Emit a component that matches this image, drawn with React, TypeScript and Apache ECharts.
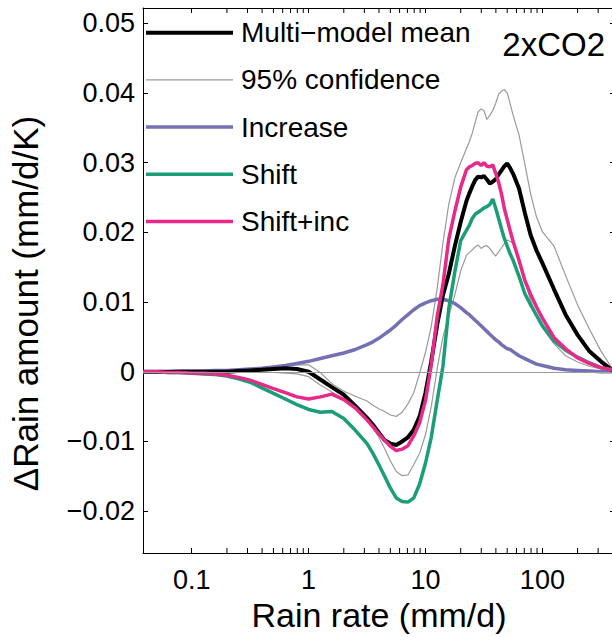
import React, { useEffect, useRef } from "react";
import * as echarts from "echarts";

// Rain-rate bins (mm/d), log spaced, denser around the peak
const RAIN_RATE = [
  0.0383, 0.0501, 0.0631, 0.0794, 0.1, 0.126, 0.158, 0.2, 0.251, 0.316,
  0.398, 0.501, 0.631, 0.794, 1, 1.26, 1.58, 2.0, 2.51, 3.16,
  3.55, 3.98, 4.47, 5.01, 5.62, 6.31, 7.08, 7.94, 8.91, 10,
  11.2, 12.6, 14.1, 15.8, 17.8, 20.0, 22.4, 23.7, 25.1, 26.6,
  28.2, 29.9, 31.6, 33.5, 35.5, 37.6, 39.8, 42.2, 44.7, 47.3,
  50.1, 53.1, 56.2, 63.1, 70.8, 79.4, 89.1, 100, 126, 158,
  200, 251, 316, 398,
];

const MEAN = [
  0, 0, 0, 0, 0, 0, 0, 0, 0.0001, 0.0002,
  0.0003, 0.0004, 0.0005, 0.0004, 0.0, -0.0011, -0.0022, -0.0033, -0.0049, -0.0066,
  -0.0076, -0.0087, -0.0098, -0.0103, -0.0105, -0.01, -0.0094, -0.0083, -0.0064, -0.003,
  0.0015, 0.0068, 0.011, 0.014, 0.018, 0.0215, 0.0245, 0.0256, 0.0266, 0.0275,
  0.028, 0.0279, 0.0281, 0.0276, 0.027, 0.0273, 0.0276, 0.0283, 0.0289, 0.0295,
  0.0299, 0.0292, 0.0284, 0.0263, 0.0228, 0.0196, 0.0174, 0.0156, 0.0118, 0.0082,
  0.0053, 0.003, 0.0015, 0.0002,
];

const CONF_UPPER = [
  0, 0, 0, 0, 0, 0, 0, 0.0001, 0.0002, 0.0003,
  0.0005, 0.0008, 0.0009, 0.001, 0.001, -0.0001, -0.0017, -0.0028, -0.0035, -0.0042,
  -0.0048, -0.0053, -0.0057, -0.0062, -0.0064, -0.0058, -0.0046, -0.003, -0.0002, 0.0028,
  0.0065, 0.012, 0.0185, 0.024, 0.0278, 0.03, 0.032, 0.033, 0.0342, 0.0358,
  0.0373, 0.0377, 0.0375, 0.0362, 0.0368, 0.0375, 0.0385, 0.0398, 0.0403, 0.0405,
  0.04, 0.0384, 0.0368, 0.034, 0.0298, 0.0255, 0.0222, 0.0201, 0.018, 0.0138,
  0.0096, 0.0062, 0.003, 0.0004,
];

const CONF_LOWER = [
  0, 0, 0, 0, 0, 0, 0, 0, 0, 0,
  -0.0001, -0.0001, -0.0002, -0.0003, -0.0007, -0.0019, -0.0029, -0.004, -0.0052, -0.0069,
  -0.008, -0.0094, -0.011, -0.0128, -0.0143, -0.0149, -0.0148, -0.0133, -0.0117, -0.009,
  -0.005, 0.0005, 0.005, 0.008, 0.011, 0.0145, 0.0167, 0.0171, 0.0175, 0.0179,
  0.0182, 0.0177, 0.018, 0.0181, 0.0177, 0.0171, 0.0166, 0.0172, 0.0178, 0.0184,
  0.0189, 0.0187, 0.0185, 0.016, 0.013, 0.0102, 0.008, 0.0063, 0.004, 0.0023,
  0.0014, 0.0008, 0.0004, 0.0001,
];

const INCREASE = [
  0, 0, 0, 0.0001, 0.0001, 0.0001, 0.0002, 0.0002, 0.0003, 0.0004,
  0.0005, 0.0007, 0.0009, 0.0012, 0.0015, 0.0019, 0.0023, 0.0027, 0.0032, 0.0039,
  0.0043, 0.0048, 0.0054, 0.006, 0.0067, 0.0075, 0.0082, 0.0089, 0.0095, 0.0099,
  0.0102, 0.0104, 0.0104, 0.0102, 0.0098, 0.0092, 0.0085, 0.0082, 0.0078, 0.0074,
  0.007, 0.0066, 0.0062, 0.0058, 0.0054, 0.005, 0.0046, 0.0043, 0.0039, 0.0036,
  0.0033, 0.0032, 0.0029, 0.0023, 0.0019, 0.0015, 0.0011, 0.0009, 0.0005, 0.0003,
  0.0002, 0.0001, 0, 0,
];

const SHIFT = [
  0, 0, -0.0001, -0.0001, -0.0002, -0.0003, -0.0004, -0.0006, -0.001, -0.0015,
  -0.0023, -0.0031, -0.0039, -0.0047, -0.0054, -0.0058, -0.0057, -0.0067, -0.0084, -0.0103,
  -0.0117, -0.0133, -0.015, -0.0167, -0.0181, -0.0186, -0.0187, -0.0181, -0.0161, -0.0131,
  -0.0094, -0.0041, 0.0008, 0.009, 0.0143, 0.0188, 0.0203, 0.021, 0.022, 0.0226,
  0.0229, 0.0232, 0.0235, 0.0237, 0.024, 0.0248, 0.0235, 0.022, 0.0205, 0.0191,
  0.018, 0.0169, 0.016, 0.0137, 0.0112, 0.0096, 0.0081, 0.0066, 0.0044, 0.0031,
  0.0021, 0.0013, 0.0006, 0.0002,
];

const SHIFT_INC = [
  0, 0, -0.0001, -0.0001, -0.0002, -0.0002, -0.0003, -0.0005, -0.0008, -0.0012,
  -0.0018, -0.0024, -0.003, -0.0036, -0.0039, -0.0036, -0.0032, -0.004, -0.0052, -0.0069,
  -0.0079, -0.0089, -0.0098, -0.0107, -0.0113, -0.0111, -0.0106, -0.0092, -0.0073, -0.0041,
  0.001, 0.008, 0.0125, 0.019, 0.023, 0.0265, 0.029, 0.0294, 0.0296, 0.0299,
  0.03, 0.0296, 0.03, 0.0295, 0.0294, 0.0297, 0.0285, 0.0272, 0.0255, 0.0234,
  0.0218, 0.0202, 0.0187, 0.016, 0.0131, 0.0111, 0.0093, 0.0077, 0.0049, 0.0033,
  0.002, 0.0012, 0.0006, 0.0003,
];

// Minor (2..9 per decade) tick positions on the rain-rate axis
const MINOR_TICKS = [
  0.2, 0.3, 0.4, 0.5, 0.6, 0.7, 0.8, 0.9,
  2, 3, 4, 5, 6, 7, 8, 9,
  20, 30, 40, 50, 60, 70, 80, 90,
  200, 300, 400,
];

const NAMES = {
  mean: "Multi\u2212model mean",
  conf: "95% confidence",
  inc: "Increase",
  shift: "Shift",
  shiftInc: "Shift+inc",
};

const X_MIN = 0.0383;
const X_MAX = 418;
const Y_MIN = -0.026;
const Y_MAX = 0.0522;

const FONT = "'Liberation Sans', Arial, Helvetica, sans-serif";
const GREY = "#9a9a9a";
const PURPLE = "#7570b3";
const GREEN = "#1b9e77";
const PINK = "#e7298a";

const pairs = (ys: number[]) => RAIN_RATE.map((x, i) => [x, ys[i]]);

const xLabel = (v: number) => {
  const l = Math.log10(v);
  if (Math.abs(l - Math.round(l)) > 1e-6) return "";
  return String(Number(v.toPrecision(6)));
};

const yLabel = (v: number) => {
  const r = Math.round(v * 100);
  if (Math.abs(v * 100 - r) > 1e-6) return "";
  if (r === 0) return "0";
  return (r < 0 ? "\u2212" : "") + (Math.abs(r) / 100).toFixed(2);
};

const axisLine = { show: true, onZero: false, lineStyle: { color: "#000", width: 1 } };
const axisTick = { show: true, inside: true, length: 5, lineStyle: { color: "#000", width: 1 } };

// legend entries show only the line, no marker
const hiddenMarker = { color: "rgba(0,0,0,0)", opacity: 0, borderWidth: 0 };

export default function App() {
  const ref = useRef<HTMLDivElement>(null);

  useEffect(() => {
    if (!ref.current) return;
    const chart = echarts.init(ref.current, null, { renderer: "svg" });

    const lineSeries = (name: string, ys: number[], color: string, width: number) => ({
      type: "line",
      name,
      data: pairs(ys),
      showSymbol: false,
      symbol: "none",
      silent: true,
      lineStyle: { color, width },
      itemStyle: { color },
    });

    chart.setOption({
      animation: false,
      textStyle: { fontFamily: FONT },
      grid: { left: 140, right: 1, top: 8, bottom: 80, containLabel: false },
      xAxis: [
        {
          type: "log",
          logBase: 10,
          min: X_MIN,
          max: X_MAX,
          position: "bottom",
          name: "Rain rate (mm/d)",
          nameLocation: "middle",
          nameGap: 45,
          nameMoveOverlap: false,
          nameTextStyle: { fontSize: 34, color: "#000", fontFamily: FONT },
          axisLine,
          axisTick,
          axisLabel: {
            fontSize: 27,
            color: "#000",
            margin: 13,
            fontFamily: FONT,
            showMinLabel: false,
            showMaxLabel: false,
            formatter: xLabel,
          },
          splitLine: { show: false },
        },
        {
          type: "log",
          logBase: 10,
          min: X_MIN,
          max: X_MAX,
          position: "top",
          axisLine,
          axisTick,
          axisLabel: { show: false },
          splitLine: { show: false },
        },
      ],
      yAxis: [
        {
          type: "value",
          min: Y_MIN,
          max: Y_MAX,
          splitNumber: 8,
          minInterval: 0.01,
          maxInterval: 0.01,
          position: "left",
          name: "\u0394Rain amount (mm/d/K)",
          nameLocation: "middle",
          nameGap: 100,
          nameMoveOverlap: false,
          nameTextStyle: {
            fontSize: 35,
            color: "#000",
            fontFamily: FONT,
            padding: [0, 46, 0, 0],
          },
          axisLine,
          axisTick,
          axisLabel: {
            fontSize: 27,
            color: "#000",
            margin: 8,
            fontFamily: FONT,
            showMinLabel: false,
            showMaxLabel: false,
            formatter: yLabel,
          },
          splitLine: { show: false },
        },
        {
          type: "value",
          min: Y_MIN,
          max: Y_MAX,
          splitNumber: 8,
          minInterval: 0.01,
          maxInterval: 0.01,
          position: "right",
          axisLine,
          axisTick,
          axisLabel: { show: false },
          splitLine: { show: false },
        },
      ],
      legend: {
        orient: "vertical",
        left: 144,
        top: 18.7,
        padding: 0,
        itemWidth: 87,
        itemHeight: 14,
        itemGap: 19.2,
        selectedMode: false,
        itemStyle: hiddenMarker,
        textStyle: {
          fontSize: 28,
          color: "#000",
          fontFamily: FONT,
          lineHeight: 28,
          padding: [0, 0, 0, 3],
        },
        data: [
          { name: NAMES.mean, itemStyle: hiddenMarker, lineStyle: { width: 4, color: "#000" } },
          { name: NAMES.conf, itemStyle: hiddenMarker, lineStyle: { width: 1.2, color: GREY } },
          { name: NAMES.inc, itemStyle: hiddenMarker, lineStyle: { width: 3.5, color: PURPLE } },
          { name: NAMES.shift, itemStyle: hiddenMarker, lineStyle: { width: 3.5, color: GREEN } },
          { name: NAMES.shiftInc, itemStyle: hiddenMarker, lineStyle: { width: 3.5, color: PINK } },
        ],
      },
      graphic: [
        {
          type: "text",
          x: 605,
          y: 44,
          silent: true,
          style: {
            text: "2xCO2",
            fontSize: 33,
            fontFamily: FONT,
            fill: "#000",
            align: "right",
            verticalAlign: "middle",
          },
        },
      ],
      series: [
        {
          ...lineSeries(NAMES.conf, CONF_UPPER, GREY, 1.2),
          markLine: {
            silent: true,
            symbol: ["none", "none"],
            label: { show: false },
            lineStyle: { color: GREY, width: 1.2, type: "solid" },
            data: [{ yAxis: 0 }],
          },
        },
        lineSeries(NAMES.conf, CONF_LOWER, GREY, 1.2),
        lineSeries(NAMES.inc, INCREASE, PURPLE, 3.5),
        lineSeries(NAMES.shift, SHIFT, GREEN, 3.5),
        lineSeries(NAMES.mean, MEAN, "#000", 4),
        lineSeries(NAMES.shiftInc, SHIFT_INC, PINK, 3.5),
        {
          type: "custom",
          name: "minor-ticks",
          silent: true,
          clip: false,
          xAxisIndex: 0,
          yAxisIndex: 0,
          data: MINOR_TICKS.map((v) => [v, 0]),
          renderItem: (_params: any, api: any) => {
            const v = api.value(0);
            const pb = api.coord([v, Y_MIN]);
            const pt = api.coord([v, Y_MAX]);
            const style = { stroke: "#000", lineWidth: 1 };
            return {
              type: "group",
              children: [
                { type: "line", shape: { x1: pb[0], y1: pb[1], x2: pb[0], y2: pb[1] - 5 }, style },
                { type: "line", shape: { x1: pt[0], y1: pt[1], x2: pt[0], y2: pt[1] + 5 }, style },
              ],
            };
          },
        },
      ],
    });

    return () => chart.dispose();
  }, []);

  return (
    <div
      style={{
        position: "fixed",
        left: 0,
        top: 0,
        width: 612,
        height: 637,
        overflow: "hidden",
        background: "#fff",
      }}
    >
      <div ref={ref} style={{ width: 616, height: 637 }} />
    </div>
  );
}
